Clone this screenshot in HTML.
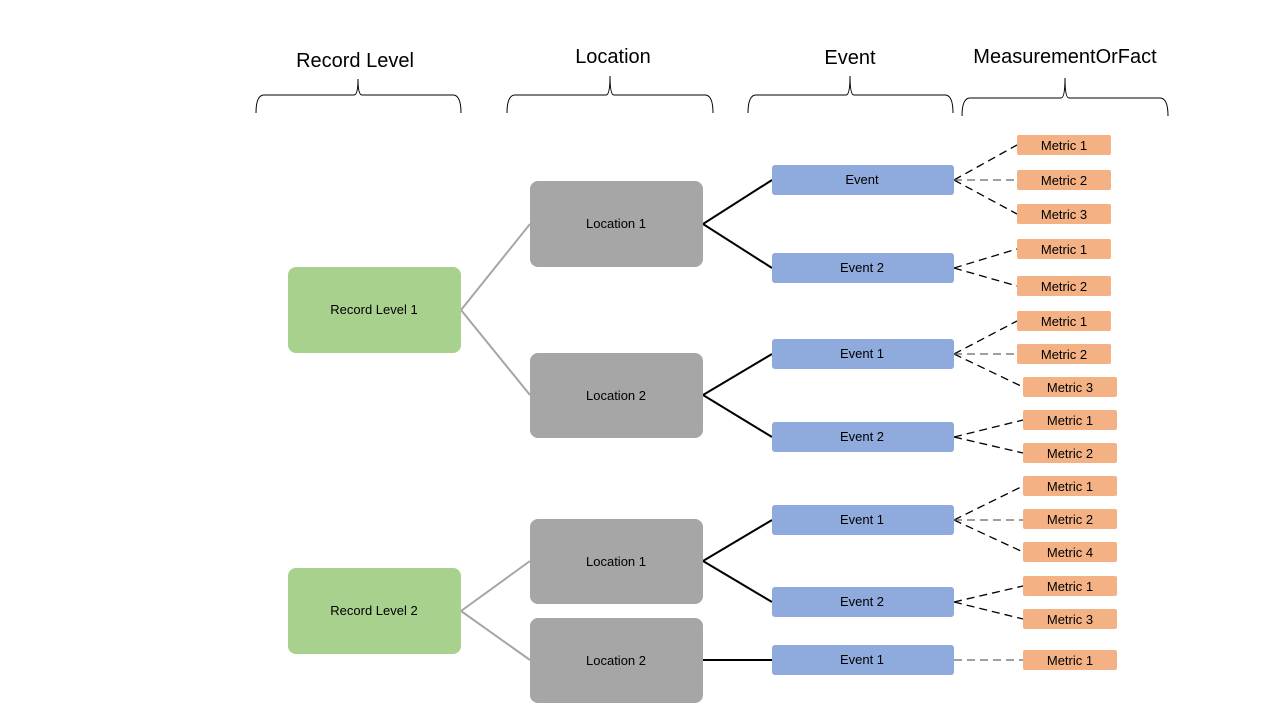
<!DOCTYPE html>
<html><head><meta charset="utf-8"><style>
html,body{margin:0;padding:0;background:#fff;}
svg{display:block;font-family:"Liberation Sans",sans-serif;}
</style></head><body>
<svg width="1280" height="720" viewBox="0 0 1280 720" xmlns="http://www.w3.org/2000/svg">
<g font-size="20" text-anchor="middle" fill="#000">
<text x="355" y="67">Record Level</text>
<text x="613" y="63">Location</text>
<text x="850" y="64">Event</text>
<text x="1065" y="63">MeasurementOrFact</text>
</g>
<g fill="none" stroke="#000" stroke-width="1">
<path d="M256 113 Q256 95 264 95 L354 95 Q358 95 358 79 Q358 95 362 95 L453 95 Q461 95 461 113"/>
<path d="M507 113 Q507 95 515 95 L606 95 Q610 95 610 76 Q610 95 614 95 L705 95 Q713 95 713 113"/>
<path d="M748 113 Q748 95 756 95 L846 95 Q850 95 850 76 Q850 95 854 95 L945 95 Q953 95 953 113"/>
<path d="M962 116 Q962 98 970 98 L1061 98 Q1065 98 1065 78 Q1065 98 1069 98 L1160 98 Q1168 98 1168 116"/>
</g>
<!-- record to location -->
<g stroke="#a6a6a6" stroke-width="2" fill="none">
<path d="M461 310 L530 224 M461 310 L530 395 M461 611 L530 561 M461 611 L530 660"/>
</g>
<!-- location to event -->
<g stroke="#000" stroke-width="2" fill="none">
<path d="M703 224 L772 180 M703 224 L772 268 M703 395 L772 354 M703 395 L772 437 M703 561 L772 520 M703 561 L772 602 M703 660 L772 660"/>
</g>
<!-- dashed -->
<g stroke="#000" stroke-width="1.3" stroke-dasharray="8,5" fill="none">
<path d="M954 180 L1017 145 M954 180 L1017 214 M954 268 L1017 249 M954 268 L1017 286"/>
<path d="M954 354 L1017 321 M954 354 L1023 387 M954 437 L1023 420 M954 437 L1023 453"/>
<path d="M954 520 L1023 486 M954 520 L1023 552 M954 602 L1023 586 M954 602 L1023 619"/>
</g>
<g stroke="#666" stroke-width="1.3" stroke-dasharray="8,5" fill="none">
<path d="M954 180 L1017 180 M954 354 L1017 354 M954 520 L1023 520 M954 660 L1023 660"/>
</g>
<!-- record boxes -->
<g font-size="13" text-anchor="middle">
<rect x="288" y="267" width="173" height="86" rx="8" fill="#a9d18e"/>
<text x="374" y="314">Record Level 1</text>
<rect x="288" y="568" width="173" height="86" rx="8" fill="#a9d18e"/>
<text x="374" y="615">Record Level 2</text>
<g fill="#a6a6a6">
<rect x="530" y="181" width="173" height="86" rx="8"/>
<rect x="530" y="353" width="173" height="85" rx="8"/>
<rect x="530" y="519" width="173" height="85" rx="8"/>
<rect x="530" y="618" width="173" height="85" rx="8"/>
</g>
<text x="616" y="228">Location 1</text>
<text x="616" y="400">Location 2</text>
<text x="616" y="566">Location 1</text>
<text x="616" y="665">Location 2</text>
<g fill="#8faadc">
<rect x="772" y="165" width="182" height="30" rx="3"/>
<rect x="772" y="253" width="182" height="30" rx="3"/>
<rect x="772" y="339" width="182" height="30" rx="3"/>
<rect x="772" y="422" width="182" height="30" rx="3"/>
<rect x="772" y="505" width="182" height="30" rx="3"/>
<rect x="772" y="587" width="182" height="30" rx="3"/>
<rect x="772" y="645" width="182" height="30" rx="3"/>
</g>
<text x="862" y="184">Event</text>
<text x="862" y="272">Event 2</text>
<text x="862" y="358">Event 1</text>
<text x="862" y="441">Event 2</text>
<text x="862" y="524">Event 1</text>
<text x="862" y="606">Event 2</text>
<text x="862" y="664">Event 1</text>
<g fill="#f4b183">
<rect x="1017" y="135" width="94" height="20" rx="2"/>
<rect x="1017" y="170" width="94" height="20" rx="2"/>
<rect x="1017" y="204" width="94" height="20" rx="2"/>
<rect x="1017" y="239" width="94" height="20" rx="2"/>
<rect x="1017" y="276" width="94" height="20" rx="2"/>
<rect x="1017" y="311" width="94" height="20" rx="2"/>
<rect x="1017" y="344" width="94" height="20" rx="2"/>
<rect x="1023" y="377" width="94" height="20" rx="2"/>
<rect x="1023" y="410" width="94" height="20" rx="2"/>
<rect x="1023" y="443" width="94" height="20" rx="2"/>
<rect x="1023" y="476" width="94" height="20" rx="2"/>
<rect x="1023" y="509" width="94" height="20" rx="2"/>
<rect x="1023" y="542" width="94" height="20" rx="2"/>
<rect x="1023" y="576" width="94" height="20" rx="2"/>
<rect x="1023" y="609" width="94" height="20" rx="2"/>
<rect x="1023" y="650" width="94" height="20" rx="2"/>
</g>
<text x="1064" y="150">Metric 1</text>
<text x="1064" y="185">Metric 2</text>
<text x="1064" y="219">Metric 3</text>
<text x="1064" y="254">Metric 1</text>
<text x="1064" y="291">Metric 2</text>
<text x="1064" y="326">Metric 1</text>
<text x="1064" y="359">Metric 2</text>
<text x="1070" y="392">Metric 3</text>
<text x="1070" y="425">Metric 1</text>
<text x="1070" y="458">Metric 2</text>
<text x="1070" y="491">Metric 1</text>
<text x="1070" y="524">Metric 2</text>
<text x="1070" y="557">Metric 4</text>
<text x="1070" y="591">Metric 1</text>
<text x="1070" y="624">Metric 3</text>
<text x="1070" y="665">Metric 1</text>
</g>
</svg>
</body></html>
